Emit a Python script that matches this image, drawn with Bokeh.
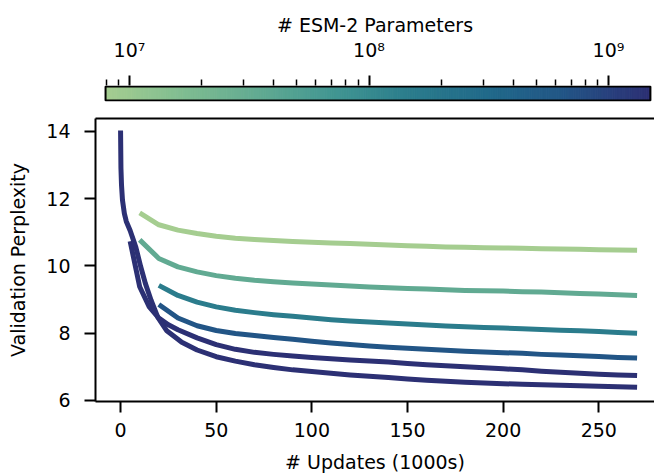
import numpy as np
from bokeh.plotting import figure
from bokeh.models import FixedTicker, LinearAxis, Range1d, ColumnDataSource
from bokeh.layouts import column
from bokeh.transform import log_cmap
from bokeh.embed import file_html
from bokeh.resources import INLINE

FONT = "DejaVu Sans"
FS = "19px"

# ---------------- data ----------------
model_names = ["8M", "35M", "150M", "650M", "3B", "15B"]
param_counts = [8e6, 35e6, 150e6, 650e6, 3e9, 15e9]

steps_8m = [10, 20, 30, 40, 50, 60, 70, 80, 90, 100, 110, 120, 130, 140, 150,
            160, 170, 180, 190, 200, 210, 220, 230, 240, 250, 260, 270]
ppl_8m = [11.57, 11.22, 11.06, 10.96, 10.88, 10.82, 10.78, 10.75, 10.72, 10.70,
          10.68, 10.66, 10.64, 10.62, 10.60, 10.58, 10.56, 10.55, 10.54, 10.53,
          10.52, 10.51, 10.50, 10.49, 10.48, 10.47, 10.46]

steps_35m = [10, 20, 30, 40, 50, 60, 70, 80, 90, 100, 110, 120, 130, 140, 150,
             160, 170, 180, 190, 200, 210, 220, 230, 240, 250, 260, 270]
ppl_35m = [10.77, 10.22, 9.97, 9.82, 9.71, 9.63, 9.57, 9.53, 9.49, 9.46,
           9.43, 9.40, 9.37, 9.35, 9.33, 9.31, 9.29, 9.27, 9.26, 9.25,
           9.23, 9.22, 9.20, 9.18, 9.16, 9.14, 9.12]

steps_150m = [20, 30, 40, 50, 60, 70, 80, 90, 100, 110, 120, 130, 140, 150,
              160, 170, 180, 190, 200, 210, 220, 230, 240, 250, 260, 270]
ppl_150m = [9.42, 9.12, 8.92, 8.78, 8.68, 8.61, 8.55, 8.50, 8.45, 8.40,
            8.36, 8.33, 8.30, 8.27, 8.24, 8.21, 8.19, 8.17, 8.15, 8.13,
            8.11, 8.09, 8.07, 8.05, 8.02, 8.00]

steps_650m = [20, 30, 40, 50, 60, 70, 80, 90, 100, 110, 120, 130, 140, 150,
              160, 170, 180, 190, 200, 210, 220, 230, 240, 250, 260, 270]
ppl_650m = [8.85, 8.45, 8.22, 8.08, 7.99, 7.93, 7.87, 7.82, 7.76, 7.71,
            7.66, 7.62, 7.58, 7.55, 7.52, 7.49, 7.46, 7.44, 7.42, 7.40,
            7.37, 7.35, 7.33, 7.31, 7.28, 7.26]

steps_3b = [5, 10, 15, 20, 25, 30, 40, 50, 60, 70, 80, 90, 100, 110, 120, 130,
            140, 150, 160, 170, 180, 190, 200, 210, 220, 230, 240, 250, 260, 270]
ppl_3b = [10.73, 9.38, 8.78, 8.45, 8.25, 8.10, 7.86, 7.66, 7.52, 7.43,
          7.37, 7.32, 7.28, 7.24, 7.20, 7.17, 7.14, 7.10, 7.06, 7.03,
          7.00, 6.97, 6.94, 6.91, 6.87, 6.84, 6.81, 6.78, 6.76, 6.74]

steps_15b = [0, 0.2, 0.5, 1, 2, 3, 5, 6.5, 8, 10.5, 13, 16, 19.5, 24, 32,
             40, 50, 60, 70, 80, 90, 100, 110, 120, 130, 140, 150, 160, 170,
             180, 190, 200, 210, 220, 230, 240, 250, 260, 270]
ppl_15b = [14.02, 12.9, 12.4, 11.95, 11.55, 11.32, 11.05, 10.8, 10.55, 9.98,
           9.47, 8.97, 8.47, 8.08, 7.73, 7.50, 7.30, 7.17, 7.06, 6.98,
           6.91, 6.86, 6.81, 6.76, 6.72, 6.68, 6.64, 6.60, 6.57, 6.54,
           6.52, 6.50, 6.48, 6.47, 6.45, 6.44, 6.42, 6.41, 6.39]

x_ticks = [0, 50, 100, 150, 200, 250]
y_ticks = [6, 8, 10, 12, 14]

# colour bar (log scale of parameter counts)
cbar_low = 10 ** 6.9
cbar_high = 10 ** 9.175
cbar_major_ticks = [1e7, 1e8, 1e9]
cbar_minor_ticks = [7e6, 8e6, 9e6, 2e7, 3e7, 4e7, 5e7, 6e7, 7e7, 8e7, 9e7,
                    2e8, 3e8, 4e8, 5e8, 6e8, 7e8, 8e8, 9e8]
cbar_tick_labels = {1e7: "10\u2077", 1e8: "10\u2078", 1e9: "10\u2079"}

# "crest"-like colormap anchors
anchor_pos = [0.0, 0.14, 0.283, 0.42, 0.561, 0.70, 0.841, 0.92, 1.0]
anchor_rgb = [(165, 205, 144), (128, 189, 145), (97, 170, 146), (65, 150, 146),
              (43, 124, 140), (33, 106, 138), (34, 86, 134), (40, 66, 126),
              (44, 48, 116)]

# ---------------- build palette ----------------
t = np.linspace(0, 1, 256)
palette = []
for v in t:
    rgb = [int(round(np.interp(v, anchor_pos, [c[i] for c in anchor_rgb]))) for i in range(3)]
    palette.append("#%02x%02x%02x" % tuple(rgb))

# ---------------- colour bar figure ----------------
# frame shares left/right edges with the main plot; the bar itself sits inside
dec = 239.5  # px per decade
cb_left = 10 ** (7 + (95 - 129) / dec)
cb_right = 10 ** (7 + (654 - 129) / dec)
cb = figure(width=654, height=108, x_axis_type="log", x_axis_location="above",
            x_range=Range1d(cb_left, cb_right), y_range=Range1d(-1 / 14, 15 / 14),
            toolbar_location=None, output_backend="svg",
            min_border_left=95, min_border_right=0, min_border_top=85, min_border_bottom=7)
cb.yaxis.visible = False
cb.grid.visible = False
cb.outline_line_color = None
edges = np.logspace(np.log10(cbar_low), np.log10(cbar_high), len(palette) + 1)
cb.quad(left=edges[:-1], right=edges[1:], bottom=0, top=1,
        fill_color=palette, line_color=palette, line_width=1)
cb.quad(left=[cbar_low], right=[cbar_high], bottom=[0], top=[1],
        fill_color=None, line_color="black", line_width=2)
ax = cb.xaxis[0]
ax.ticker = FixedTicker(ticks=cbar_major_ticks, minor_ticks=cbar_minor_ticks)
ax.major_label_overrides = cbar_tick_labels
ax.axis_line_color = None
ax.major_tick_out = 10
ax.major_tick_in = 0
ax.minor_tick_out = 6
ax.minor_tick_in = 0
ax.major_tick_line_width = 2
ax.minor_tick_line_width = 1.5
ax.major_tick_line_color = "black"
ax.minor_tick_line_color = "black"
ax.major_label_text_font = FONT
ax.major_label_text_font_size = FS
ax.major_label_text_color = "black"
ax.major_label_standoff = 15
ax.axis_label = "# ESM-2 Parameters"
ax.axis_label_text_font = FONT
ax.axis_label_text_font_size = FS
ax.axis_label_text_font_style = "normal"
ax.axis_label_text_color = "black"
ax.axis_label_standoff = 0

# ---------------- main figure ----------------
p = figure(width=654, height=368, x_range=Range1d(-13.1, 279.1), y_range=Range1d(5.97, 14.377),
           toolbar_location=None, output_backend="svg",
           min_border_left=95, min_border_right=0, min_border_top=10, min_border_bottom=75)
p.outline_line_color = None
p.grid.visible = False
xb = p.xaxis[0]
yl = p.yaxis[0]

src = ColumnDataSource(dict(
    xs=[steps_8m, steps_35m, steps_150m, steps_650m, steps_3b, steps_15b],
    ys=[ppl_8m, ppl_35m, ppl_150m, ppl_650m, ppl_3b, ppl_15b],
    params=param_counts,
    name=model_names,
))
p.multi_line(xs="xs", ys="ys", source=src, line_width=5, line_join="round",
             line_color=log_cmap("params", palette, cbar_low, cbar_high))

for a, tk in ((xb, x_ticks), (yl, y_ticks)):
    a.ticker = FixedTicker(ticks=tk)
    a.axis_line_width = 2
    a.axis_line_color = "black"
    a.major_tick_line_width = 2
    a.major_tick_line_color = "black"
    a.major_tick_out = 11
    a.major_tick_in = 0
    a.minor_tick_line_color = None
    a.major_label_text_font = FONT
    a.major_label_text_font_size = FS
    a.major_label_text_color = "black"
    a.axis_label_text_font = FONT
    a.axis_label_text_font_size = FS
    a.axis_label_text_font_style = "normal"
    a.axis_label_text_color = "black"

xb.axis_label = "# Updates (1000s)"
xb.major_label_standoff = 10
xb.axis_label_standoff = 11
yl.axis_label = "Validation Perplexity"
yl.major_label_standoff = 14
yl.axis_label_standoff = 14

top = LinearAxis(ticker=FixedTicker(ticks=[]), axis_line_width=2, axis_line_color="black",
                 major_tick_line_color=None, minor_tick_line_color=None,
                 major_label_text_font_size="0px", major_label_standoff=0,
                 axis_label_standoff=0)
p.add_layout(top, "above")

layout = column(cb, p)
open("out.html", "w").write(file_html(layout, INLINE))
